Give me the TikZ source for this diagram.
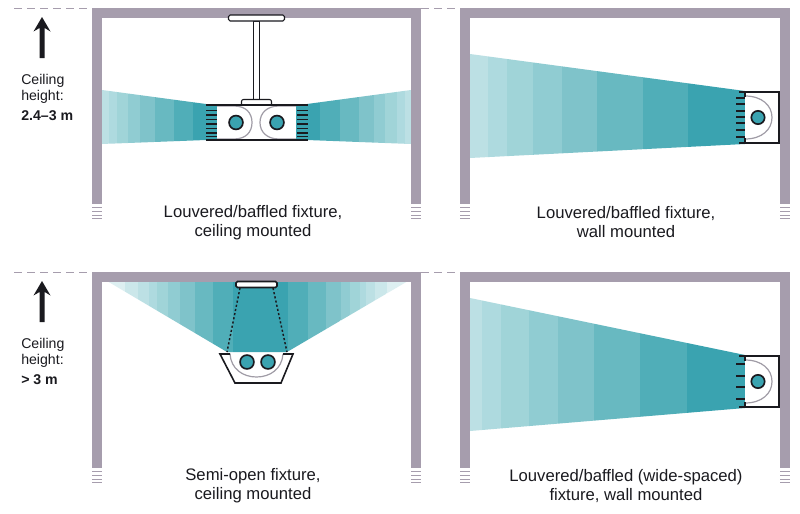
\documentclass[tikz,border=0pt]{standalone}
\usepackage{fontspec}
\setmainfont{Liberation Sans}
\definecolor{wallc}{HTML}{A69DAD}
\definecolor{tealc}{HTML}{3AA3B0}
\definecolor{inkc}{HTML}{1A1A1F}
\definecolor{arcc}{HTML}{A09CA6}
\definecolor{bA}{HTML}{BCE0E4}
\definecolor{bB}{HTML}{AEDADF}
\definecolor{bC}{HTML}{A0D4D8}
\definecolor{bD}{HTML}{90CCD2}
\definecolor{bE}{HTML}{7FC3CA}
\definecolor{bF}{HTML}{68B9C1}
\definecolor{bG}{HTML}{50AEB8}
\definecolor{bH}{HTML}{3AA3B0}
\definecolor{bX}{HTML}{DDEFF1}
\definecolor{bY}{HTML}{CBE7EA}
\tikzset{
  x=0.75pt,y=-0.75pt,
  wallfill/.style={fill=wallc,draw=none},
  hatchline/.style={draw=wallc,line width=0.6pt},
  dashline/.style={draw=wallc,line width=0.75pt,dash pattern=on 6pt off 3.8pt},
  ink/.style={draw=inkc,line width=1.2pt},
  arcline/.style={draw=arcc,line width=0.9pt},
  lamp/.style={fill=tealc,draw=inkc,line width=1.25pt},
  tick/.style={draw=inkc,line width=1.2pt},
  caption/.style={align=center,font=\fontsize{12.5}{14.3}\selectfont,text=inkc,inner sep=0pt},
  sidelabel/.style={align=left,anchor=west,font=\fontsize{10.6}{11.8}\selectfont,text=inkc,inner sep=0pt},
}
% room: left x, right x, top y
\newcommand{\roomshell}[3]{%
  \fill[wallfill] (#1,#3) rectangle (#2,#3+9.5);
  \fill[wallfill] (#1,#3) rectangle (#1+10,#3+196);
  \fill[wallfill] (#2-10,#3) rectangle (#2,#3+196);
  \foreach \hy in {199,203,207,210}{
    \draw[hatchline] (#1,#3+\hy) -- (#1+10,#3+\hy);
    \draw[hatchline] (#2-10,#3+\hy) -- (#2,#3+\hy);
  }
}
% bands: clip polygon, list x/next/colour
\newcommand{\bandset}[2]{%
  \begin{scope}
    \clip #1;
    \foreach \xa/\xb/\cc in {#2}{
      \fill[\cc] (\xa,0) rectangle (\xb+0.3,514);
    }
  \end{scope}
}
\newcommand{\upmark}[1]{%
  \fill[inkc] (42,#1) -- (50.5,#1+14.5) -- (44.7,#1+11) -- (44.7,#1+41) -- (39.5,#1+41) -- (39.5,#1+11) -- (33.5,#1+14.5) -- cycle;
}
% wall fixture: top y, bottom y, list of ticks
\newcommand{\wallfixture}[3]{%
  \pgfmathsetmacro{\midy}{(#1+#2)/2}
  \fill[white] (745,#1) rectangle (779,#2);
  \draw[arcline] (745,#1+4) .. controls (762,#1+4) and (772,\midy-12) .. (772,\midy) .. controls (772,\midy+12) and (762,#2-4) .. (745,#2-4);
  \draw[ink] (739,#1) -- (779,#1) -- (779,#2) -- (739,#2);
  \draw[ink] (745,#1) -- (745,#1+5);
  \draw[ink] (745,#2) -- (745,#2-5);
  \foreach \ty in {#3}{\draw[tick] (736,\ty) -- (745,\ty);}
  \draw[lamp] (758,\midy) circle[radius=5pt];
}
\begin{document}
\begin{tikzpicture}
\useasboundingbox (0,0) rectangle (800,514);
\fill[white] (0,0) rectangle (800,514);

% beams
\bandset{(102,90) -- (206,104) -- (206,140) -- (102,144) -- cycle}{102/109/bA,109/117/bB,117/128/bC,128/140/bD,140/155/bE,155/174/bF,174/193/bG,193/206/bH}
\bandset{(307,104) -- (411,90) -- (411,144) -- (307,140) -- cycle}{307/320/bH,320/340/bG,340/359/bF,359/374/bE,374/385/bD,385/397/bC,397/405/bB,405/411/bA}
\bandset{(470,54) -- (745,91) -- (745,144) -- (470,158) -- cycle}{470/488/bA,488/507/bB,507/533/bC,533/562/bD,562/597/bE,597/643/bF,643/688/bG,688/745/bH}
\bandset{(470,298) -- (745,355) -- (745,408) -- (470,431) -- cycle}{470/482/bA,482/501/bB,501/529/bC,529/558/bD,558/594/bE,594/640/bF,640/687/bG,687/745/bH}
\bandset{(107,281) -- (408,281) -- (287,352) -- (227,352) -- cycle}{107/125/bX,125/138/bY,138/149/bA,149/157/bB,157/168/bC,168/180/bD,180/195/bE,195/213/bF,213/233/bG,233/288/bH,288/308/bG,308/326/bF,326/341/bE,341/350/bD,350/360/bC,360/366/bB,366/375/bA,375/387/bY,387/408/bX}

% rooms
\roomshell{92}{421}{8}
\roomshell{460}{790}{8}
\roomshell{92}{421}{272}
\roomshell{460}{790}{272}
\draw[dashline] (14,8) -- (92,8);
\draw[dashline] (421,8) -- (460,8);
\draw[dashline] (14,272) -- (92,272);
\draw[dashline] (421,272) -- (460,272);

% arrows
\upmark{17}
\upmark{281}

% suspended fixture
\fill[tealc] (206,105) rectangle (217,140);
\fill[tealc] (296,105) rectangle (308,140);
\fill[white] (217,105) rectangle (296,140);
\draw[arcline] (217,106) -- (234,106) .. controls (246,106) and (252,113) .. (252,122.5) .. controls (252,132) and (246,139) .. (234,139) -- (217,139);
\draw[arcline] (296,106) -- (279,106) .. controls (267,106) and (260,113) .. (260,122.5) .. controls (260,132) and (267,139) .. (279,139) -- (296,139);
\draw[ink,fill=white,line width=0.7pt] (253.5,21) rectangle (259.8,100);
\draw[ink,fill=white,rounded corners=1.2pt,line width=0.8pt] (228.5,15) rectangle (284.5,21);
\draw[ink,fill=white,line width=0.8pt,rounded corners=1.5pt] (241.5,105) -- (241.5,99.5) -- (271.5,99.5) -- (271.5,105);
\draw[ink] (206,105) -- (308,105);
\draw[ink] (206,140) -- (308,140);
\foreach \ty in {110.5,115,119.5,124,128.5,133,136.5}{
  \draw[tick] (206,\ty) -- (217,\ty);
  \draw[tick] (297,\ty) -- (308,\ty);
}
\draw[lamp] (236,122.5) circle[radius=5.2pt];
\draw[lamp] (277,122.5) circle[radius=5.2pt];

% wall fixtures
\wallfixture{92}{143}{98,104,111,117,123,130,137}
\wallfixture{356}{407}{364,376,387,399}

% semi-open fixture
\draw[draw=inkc,line width=1.1pt,dash pattern=on 1.6pt off 1.6pt] (240,288) -- (227,352);
\draw[draw=inkc,line width=1.1pt,dash pattern=on 1.6pt off 1.6pt] (273,288) -- (287,352);
\draw[ink,fill=white,rounded corners=1.2pt] (236,281.5) rectangle (277,287.5);
\fill[white] (220,353.5) -- (293,353.5) -- (281,383) -- (235,383) -- cycle;
\draw[arcline] (230,354) .. controls (231,369) and (243,377) .. (256.5,377) .. controls (270,377) and (282,369) .. (283,354);
\draw[ink] (230,354) -- (220,354) -- (235,383) -- (281,383) -- (293,354) -- (283,354);
\draw[lamp] (247,362) circle[radius=5.2pt];
\draw[lamp] (268,362) circle[radius=5.2pt];

% labels
\node[sidelabel] (lblA) at (21,97.5) {Ceiling\\height:\\[3.2pt]\textbf{2.4–3 m}};
\node[sidelabel] (lblB) at (21,361.5) {Ceiling\\height:\\[3.2pt]\textbf{> 3 m}};
\node[caption] (capA) at (253,222.5) {Louvered/baffled fixture,\\ceiling mounted};
\node[caption] (capB) at (626,222.5) {Louvered/baffled fixture,\\wall mounted};
\node[caption] (capC) at (253,486) {Semi-open fixture,\\ceiling mounted};
\node[caption] (capD) at (626,486) {Louvered/baffled (wide-spaced)\\fixture, wall mounted};
\end{tikzpicture}
\end{document}
